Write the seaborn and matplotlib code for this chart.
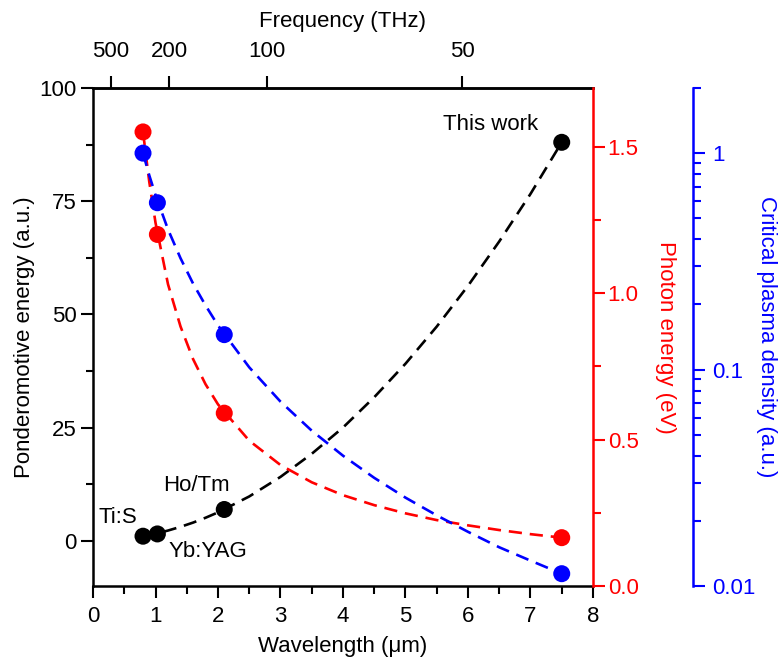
import matplotlib
matplotlib.use('Agg')
import matplotlib.pyplot as plt
from matplotlib.ticker import MultipleLocator, LogLocator, FixedLocator, NullFormatter
import seaborn as sns

# measured laser sources (wavelength in um)
wavelength = [0.8, 1.03, 2.1, 7.5]
laser_names = ['Ti:S', 'Yb:YAG', 'Ho/Tm', 'This work']
ponderomotive = [1.0, 1.5, 6.9, 88.0]
photon_energy = [1.55, 1.20, 0.59, 0.165]
critical_density = [1.0, 0.59, 0.145, 0.0114]

# dashed guide curves
curve_wl = [0.8, 0.9, 1.0, 1.2, 1.4, 1.6, 1.8, 2.0, 2.5, 3.0, 3.5, 4.0,
            4.5, 5.0, 5.5, 6.0, 6.5, 7.0, 7.5]
curve_pond = [1.0, 1.27, 1.56, 2.25, 3.07, 4.0, 5.07, 6.26, 9.78, 14.1, 19.2,
              25.0, 31.7, 39.1, 47.3, 56.3, 66.1, 76.6, 88.0]
curve_photon = [1.55, 1.38, 1.24, 1.03, 0.886, 0.775, 0.689, 0.62, 0.496,
                0.413, 0.354, 0.31, 0.276, 0.248, 0.225, 0.207, 0.191, 0.177, 0.165]
curve_density = [1.0, 0.79, 0.64, 0.444, 0.327, 0.25, 0.198, 0.16, 0.1024,
                 0.0711, 0.0522, 0.04, 0.0316, 0.0256, 0.0212, 0.0178, 0.0151,
                 0.0131, 0.0114]

# top frequency axis
freq_labels = ['500', '200', '100', '50']
freq_tick_pos = [0.28, 1.22, 2.78, 5.91]

# where the source names sit (data coords of the left axis)
name_pos = [(0.40, 5.1), (1.84, -2.4), (1.65, 12.1), (6.36, 92.0)]

RED = '#ff0000'
BLUE = '#0000ff'

sns.set_style('ticks')
plt.rcParams['font.family'] = ['Liberation Sans', 'DejaVu Sans']
plt.rcParams.update({
    'font.size': 16,
    'text.color': 'black',
    'axes.labelcolor': 'black',
    'axes.edgecolor': 'black',
    'xtick.color': 'black', 'ytick.color': 'black',
    'axes.linewidth': 1.8,
    'xtick.major.size': 8.6, 'xtick.minor.size': 5.4,
    'ytick.major.size': 8.6, 'ytick.minor.size': 5.4,
    'xtick.major.width': 1.5, 'xtick.minor.width': 1.5,
    'ytick.major.width': 1.5, 'ytick.minor.width': 1.5,
    'xtick.direction': 'out', 'ytick.direction': 'out',
})

fig = plt.figure(figsize=(7.79, 6.62), dpi=100)
ax = fig.add_axes([0.1194, 0.1148, 0.6418, 0.7523])
ax_red = ax.twinx()
ax_blue = ax.twinx()
ax_blue.set_yscale('log')

dash = (0, (5, 3))
lw = 1.9

# ponderomotive energy (left, black)
sns.lineplot(x=curve_wl, y=curve_pond, ax=ax, color='black', lw=lw,
             linestyle=dash, sort=False, estimator=None)
sns.scatterplot(x=wavelength, y=ponderomotive, ax=ax, color='black', s=150,
                edgecolor='none', zorder=3)

# photon energy (right, red)
sns.lineplot(x=curve_wl, y=curve_photon, ax=ax_red, color=RED, lw=lw,
             linestyle=dash, sort=False, estimator=None)
sns.scatterplot(x=wavelength, y=photon_energy, ax=ax_red, color=RED, s=150,
                edgecolor='none', zorder=3)

# critical plasma density (far right, blue, log)
sns.lineplot(x=curve_wl, y=curve_density, ax=ax_blue, color=BLUE, lw=lw,
             linestyle=dash, sort=False, estimator=None)
sns.scatterplot(x=wavelength, y=critical_density, ax=ax_blue, color=BLUE, s=150,
                edgecolor='none', zorder=3)

for name, (tx, ty) in zip(laser_names, name_pos):
    ax.text(tx, ty, name, ha='center', va='center', fontsize=16)

# left / bottom axes
ax.set_xlim(0, 8)
ax.set_ylim(-10, 100)
ax.xaxis.set_major_locator(MultipleLocator(1))
ax.xaxis.set_minor_locator(MultipleLocator(0.5))
ax.yaxis.set_major_locator(FixedLocator([0, 25, 50, 75, 100]))
ax.yaxis.set_minor_locator(FixedLocator([12.5, 37.5, 62.5, 87.5]))
ax.tick_params(axis='x', which='major', pad=6)
ax.tick_params(axis='y', which='major', pad=3)
ax.set_xlabel('Wavelength (\u03bcm)', labelpad=6)
ax.set_ylabel('Ponderomotive energy (a.u.)', labelpad=3)
ax.spines['right'].set_visible(False)

# top frequency axis
ax_top = ax.secondary_xaxis('top')
ax_top.set_xticks(freq_tick_pos, freq_labels)
ax_top.tick_params(axis='x', which='major', pad=10)
ax_top.set_xlabel('Frequency (THz)', labelpad=10)

# red axis
ax_red.set_ylim(0, 1.7)
ax_red.yaxis.set_major_locator(FixedLocator([0.0, 0.5, 1.0, 1.5]))
ax_red.yaxis.set_minor_locator(FixedLocator([0.25, 0.75, 1.25]))
ax_red.yaxis.set_major_formatter(plt.FormatStrFormatter('%.1f'))
ax_red.tick_params(axis='y', which='both', colors=RED, pad=2)
ax_red.set_ylabel('Photon energy (eV)', color=RED, rotation=270, labelpad=27)
for s in ['left', 'top', 'bottom']:
    ax_red.spines[s].set_visible(False)
ax_red.spines['right'].set_color(RED)

# blue axis
ax_blue.set_ylim(0.01, 2)
ax_blue.yaxis.set_major_locator(FixedLocator([0.01, 0.1, 1]))
ax_blue.yaxis.set_major_formatter(plt.FixedFormatter(['0.01', '0.1', '1']))
ax_blue.yaxis.set_minor_locator(LogLocator(base=10, subs=range(2, 10)))
ax_blue.yaxis.set_minor_formatter(NullFormatter())
ax_blue.tick_params(axis='y', which='both', colors=BLUE, pad=5)
ax_blue.set_ylabel('Critical plasma density (a.u.)', color=BLUE,
                   rotation=270, labelpad=16)
for s in ['left', 'top', 'bottom']:
    ax_blue.spines[s].set_visible(False)
ax_blue.spines['right'].set_position(('axes', 1.2))
ax_blue.spines['right'].set_color(BLUE)

ax_red.set_xlim(0, 8)
ax_blue.set_xlim(0, 8)

fig.savefig('out.png', dpi=100)
